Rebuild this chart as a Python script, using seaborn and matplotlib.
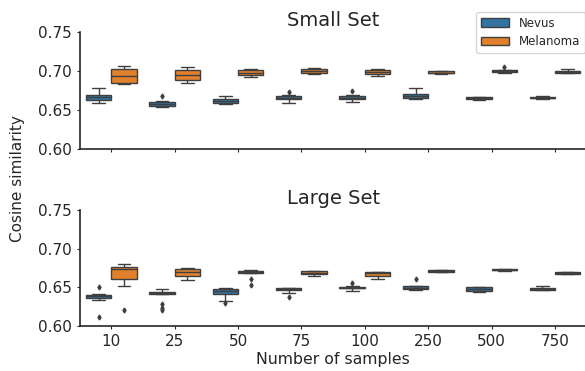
import numpy as np
import pandas as pd
import matplotlib
matplotlib.use("Agg")
import matplotlib.pyplot as plt
import seaborn as sns

categories = ["10", "25", "50", "75", "100", "250", "500", "750"]
classes = ["Nevus", "Melanoma"]

# Per-run cosine similarities (small training set)
small_nevus = {
    "10":  [0.6586, 0.6586, 0.6630, 0.6650, 0.6663, 0.6675, 0.6690, 0.6735, 0.6780],
    "25":  [0.6545, 0.6545, 0.6550, 0.6565, 0.6577, 0.6585, 0.6600, 0.6610, 0.6683],
    "50":  [0.6577, 0.6577, 0.6590, 0.6600, 0.6611, 0.6625, 0.6637, 0.6645, 0.6680],
    "75":  [0.6586, 0.6625, 0.6637, 0.6650, 0.6658, 0.6665, 0.6676, 0.6690, 0.6735],
    "100": [0.6599, 0.6625, 0.6637, 0.6650, 0.6658, 0.6670, 0.6680, 0.6690, 0.6747],
    "250": [0.6645, 0.6645, 0.6654, 0.6665, 0.6680, 0.6690, 0.6705, 0.6710, 0.6780],
    "500": [0.6635, 0.6635, 0.6641, 0.6648, 0.6654, 0.6660, 0.6667, 0.6672, 0.6672],
    "750": [0.6645, 0.6645, 0.6650, 0.6655, 0.6660, 0.6665, 0.6670, 0.6675, 0.6675],
}
small_melanoma = {
    "10":  [0.6830, 0.6830, 0.6850, 0.6900, 0.6936, 0.6980, 0.7026, 0.7060, 0.7060],
    "25":  [0.6850, 0.6850, 0.6885, 0.6920, 0.6953, 0.6990, 0.7013, 0.7047, 0.7047],
    "50":  [0.6927, 0.6927, 0.6945, 0.6960, 0.6978, 0.6995, 0.7009, 0.7022, 0.7022],
    "75":  [0.6958, 0.6958, 0.6975, 0.6990, 0.7000, 0.7010, 0.7022, 0.7038, 0.7038],
    "100": [0.6940, 0.6940, 0.6965, 0.6980, 0.6990, 0.7000, 0.7013, 0.7020, 0.7020],
    "250": [0.6965, 0.6965, 0.6970, 0.6975, 0.6980, 0.6988, 0.6996, 0.7000, 0.7000],
    "500": [0.6975, 0.6975, 0.6983, 0.6990, 0.6996, 0.7002, 0.7009, 0.7015, 0.7055],
    "750": [0.6975, 0.6975, 0.6980, 0.6988, 0.6993, 0.6998, 0.7005, 0.7026, 0.7026],
}
# Large training set
large_nevus = {
    "10":  [0.6116, 0.6340, 0.6362, 0.6372, 0.6383, 0.6395, 0.6404, 0.6415, 0.6508],
    "25":  [0.6210, 0.6236, 0.6280, 0.6413, 0.6420, 0.6425, 0.6430, 0.6435, 0.6438, 0.6443, 0.6448, 0.6455, 0.6482],
    "50":  [0.6293, 0.6323, 0.6409, 0.6430, 0.6456, 0.6465, 0.6474, 0.6491, 0.6491],
    "75":  [0.6378, 0.6430, 0.6461, 0.6468, 0.6474, 0.6480, 0.6487, 0.6495, 0.6495],
    "100": [0.6456, 0.6480, 0.6487, 0.6492, 0.6497, 0.6502, 0.6508, 0.6515, 0.6552],
    "250": [0.6468, 0.6468, 0.6474, 0.6485, 0.6494, 0.6503, 0.6513, 0.6518, 0.6603],
    "500": [0.6445, 0.6445, 0.6452, 0.6465, 0.6474, 0.6487, 0.6500, 0.6505, 0.6505],
    "750": [0.6460, 0.6460, 0.6465, 0.6472, 0.6478, 0.6485, 0.6491, 0.6495, 0.6517],
}
large_melanoma = {
    "10":  [0.6210, 0.6521, 0.6607, 0.6700, 0.6741, 0.6755, 0.6767, 0.6801, 0.6801],
    "25":  [0.6598, 0.6598, 0.6650, 0.6680, 0.6698, 0.6720, 0.6737, 0.6750, 0.6750],
    "50":  [0.6530, 0.6611, 0.6689, 0.6695, 0.6700, 0.6708, 0.6715, 0.6720, 0.6720],
    "75":  [0.6642, 0.6642, 0.6672, 0.6685, 0.6690, 0.6698, 0.6707, 0.6715, 0.6715],
    "100": [0.6603, 0.6603, 0.6646, 0.6665, 0.6681, 0.6690, 0.6698, 0.6705, 0.6705],
    "250": [0.6695, 0.6695, 0.6698, 0.6703, 0.6708, 0.6714, 0.6720, 0.6722, 0.6722],
    "500": [0.6716, 0.6716, 0.6720, 0.6727, 0.6731, 0.6736, 0.6741, 0.6744, 0.6744],
    "750": [0.6668, 0.6668, 0.6672, 0.6680, 0.6685, 0.6690, 0.6698, 0.6700, 0.6700],
}

titles = ["Small Set", "Large Set"]
ylabel = "Cosine similarity"
xlabel = "Number of samples"
yticks = [0.60, 0.65, 0.70, 0.75]


def to_frame(nevus, melanoma):
    rows = []
    for cls, d in zip(classes, [nevus, melanoma]):
        for cat in categories:
            for v in d[cat]:
                rows.append({"n": cat, "cls": cls, "sim": v})
    return pd.DataFrame(rows)


sns.set_theme(style="ticks")
plt.rcParams["font.family"] = ["DejaVu Sans"]

fig = plt.figure(figsize=(5.85, 3.71), dpi=100)
ax_top = fig.add_axes([0.136, 0.598, 0.867, 0.316])
ax_bot = fig.add_axes([0.136, 0.121, 0.867, 0.313])

palette = {"Nevus": "#3274a1", "Melanoma": "#e1812c"}
flier = dict(marker="d", markersize=2.5, markerfacecolor="#3f3f3f", markeredgecolor="#3f3f3f")

for ax, (nv, ml), title in zip([ax_top, ax_bot],
                               [(small_nevus, small_melanoma), (large_nevus, large_melanoma)],
                               titles):
    df = to_frame(nv, ml)
    sns.boxplot(data=df, x="n", y="sim", hue="cls", order=categories, hue_order=classes,
                palette=palette, saturation=1, linewidth=1.0, linecolor="#3f3f3f",
                flierprops=flier, ax=ax, legend=(ax is ax_top))
    ax.set_ylim(0.60, 0.75)
    ax.set_yticks(yticks)
    ax.set_yticklabels([f"{t:.2f}" for t in yticks], fontsize=11)
    ax.set_title(title, fontsize=14, pad=4)
    ax.set_ylabel("")
    ax.set_xlim(-0.5, 7.5)
    ax.tick_params(axis="both", length=2.5, width=0.8, pad=3)
    for sp in ["left", "bottom"]:
        ax.spines[sp].set_linewidth(1.2)
        ax.spines[sp].set_color("#262626")
    sns.despine(ax=ax)

ax_top.set_xlabel("")
ax_top.set_xticklabels([])
ax_bot.set_xlabel(xlabel, fontsize=11.3, labelpad=2)
ax_bot.tick_params(axis="x", labelsize=11)

handles, labels = ax_top.get_legend_handles_labels()
ax_top.get_legend().remove()
fig.legend(handles, labels, loc="upper right", bbox_to_anchor=(1.0, 0.968),
           borderaxespad=0, fontsize=8.5, handlelength=2.4, frameon=True)

fig.text(0.03, 0.52, ylabel, rotation=90, va="center", ha="center", fontsize=11)

fig.savefig("out.png", dpi=100)
